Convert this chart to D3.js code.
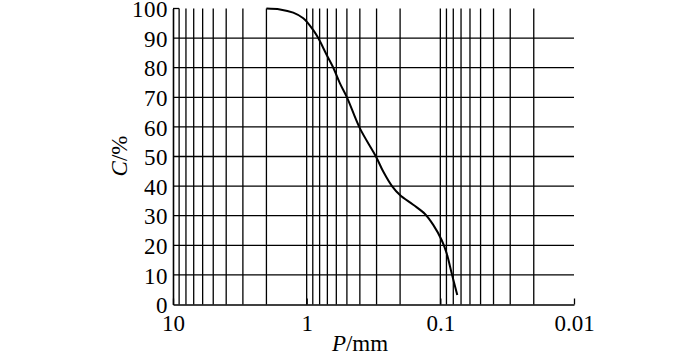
<!DOCTYPE html>
<html><head><meta charset="utf-8">
<script src="https://cdn.jsdelivr.net/npm/d3@7"></script>
<style>
html,body{margin:0;padding:0;background:#fff;}
</style></head>
<body><svg id="c" width="700" height="360"></svg>
<script>
// particle size P (mm) and cumulative content C (%)
const sizeP = [2.0, 1.584, 1.26, 1.06, 0.892, 0.819, 0.708, 0.632, 0.5636, 0.4995, 0.3995, 0.3032, 0.2674, 0.230, 0.2005, 0.1595, 0.1303, 0.113, 0.0978, 0.0897, 0.0823, 0.0747];
const contentC = [100, 99.7, 98.6, 96.7, 92.7, 90.0, 84.3, 80.0, 74.7, 70.0, 59.5, 50.0, 44.9, 40.0, 37.0, 33.7, 30.6, 26.9, 21.8, 17.3, 10.6, 3.2];
const xTickLabels = ["10", "1", "0.1", "0.01"];
const xTickValues = [10, 1, 0.1, 0.01];
const yTickValues = [0, 10, 20, 30, 40, 50, 60, 70, 80, 90, 100];
const xGridValues = [9,8,7,6,5,4,3,2,1,0.9,0.8,0.7,0.6,0.5,0.4,0.3,0.2,0.1,0.09,0.08,0.07,0.06,0.05,0.04,0.03,0.02];

const FONT = '"Liberation Serif", "Times New Roman", serif';
const svg = d3.select("#c");
const x = d3.scaleLog().domain([10, 0.01]).range([173, 574]);
const y = d3.scaleLinear().domain([0, 100]).range([304.5, 8.5]);
const g = svg.append("g");
const sw = 1.3;

// horizontal grid
g.selectAll(".hg").data(yTickValues.filter(v => v > 0 && v < 100)).enter().append("line")
  .attr("x1", x(10)).attr("x2", x(0.01))
  .attr("y1", d => y(d)).attr("y2", d => y(d))
  .attr("stroke", "#000").attr("stroke-width", sw);
// short top segment
g.append("line").attr("x1", x(10)).attr("x2", x(9)).attr("y1", y(100)).attr("y2", y(100))
  .attr("stroke", "#000").attr("stroke-width", sw);
// vertical grid
g.selectAll(".vg").data(xGridValues).enter().append("line")
  .attr("x1", d => x(d)).attr("x2", d => x(d))
  .attr("y1", y(100)).attr("y2", y(0))
  .attr("stroke", "#000").attr("stroke-width", sw);

// axes
const xAxis = d3.axisBottom(x).tickValues(xTickValues).tickSizeInner(-6).tickSizeOuter(0)
  .tickFormat((d, i) => xTickLabels[i]).tickPadding(13);
const xa = svg.append("g").attr("transform", `translate(0,${y(0)})`).call(xAxis);
xa.select(".domain").attr("stroke", "#000").attr("stroke-width", 1.6);
xa.selectAll(".tick line").attr("stroke", "#000").attr("stroke-width", sw);
xa.selectAll(".tick text").style("font-size", "23px").style("font-family", FONT).attr("fill", "#000").attr("dy", "0.6em");

const yAxis = d3.axisLeft(y).tickValues(yTickValues).tickSize(0).tickPadding(5);
const ya = svg.append("g").attr("transform", `translate(${x(10)},0)`).call(yAxis);
ya.select(".domain").attr("stroke", "#000").attr("stroke-width", 1.6);
ya.selectAll(".tick text").style("font-size", "23px").style("font-family", FONT).attr("fill", "#000").attr("letter-spacing", 0.5).attr("dy", "0.36em");

// curve
const line = d3.line().x((v, i) => x(sizeP[i])).y(v => y(v)).curve(d3.curveCatmullRom.alpha(0.5));
svg.append("path").datum(contentC).attr("d", line)
  .attr("fill", "none").attr("stroke", "#000").attr("stroke-width", 2);

// titles
svg.append("text").attr("x", 360).attr("y", 351).attr("text-anchor", "middle")
  .style("font-size", "23px").style("font-family", FONT)
  .html('<tspan font-style="italic">P</tspan>/mm');
svg.append("text").attr("transform", "translate(127,156) rotate(-90)").attr("text-anchor", "middle")
  .style("font-size", "23px").style("font-family", FONT)
  .html('<tspan font-style="italic">C</tspan>/%');
</script></body></html>
